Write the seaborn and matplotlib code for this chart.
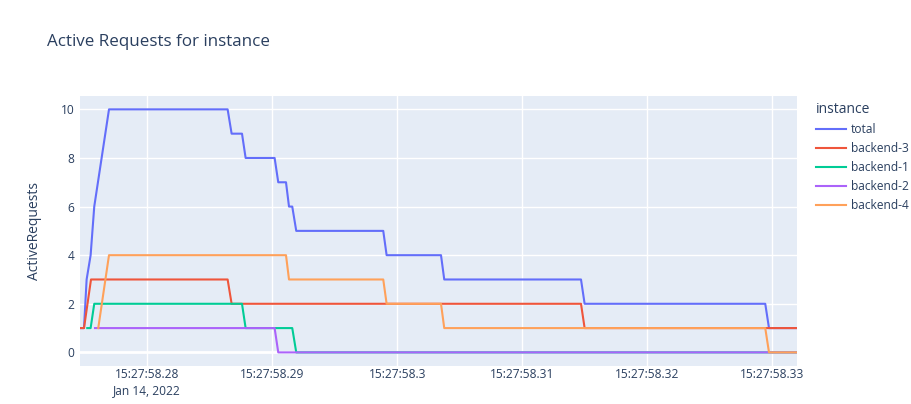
import pandas as pd
import numpy as np
import seaborn as sns
import matplotlib.pyplot as plt

# milliseconds after 15:27:58.270 for every sample, and the active request count
total_ms = [4.62, 4.94, 5.15, 5.47, 5.76, 6.94, 16.43, 16.75, 17.58, 17.87, 20.19, 20.48,
            21.10, 21.34, 21.60, 21.92, 28.88, 29.15, 33.50, 33.76, 44.70, 44.99, 59.44, 59.74, 61.98]
total_val = [1, 1, 3, 4, 6, 10, 10, 9, 9, 8, 8, 7, 7, 6, 6, 5, 5, 4, 4, 3, 3, 2, 2, 1, 1]

b3_ms = [4.62, 4.94, 5.50, 16.43, 16.75, 44.70, 44.99, 61.98]
b3_val = [1, 1, 3, 3, 2, 2, 1, 1]

b1_ms = [5.20, 5.47, 5.76, 17.58, 17.87, 21.60, 21.92, 61.98]
b1_val = [1, 1, 2, 2, 1, 1, 0, 0]

b2_ms = [5.82, 20.19, 20.48, 61.98]
b2_val = [1, 1, 0, 0]

b4_ms = [6.08, 6.94, 21.10, 21.34, 28.88, 29.15, 33.50, 33.76, 59.44, 59.74, 61.98]
b4_val = [1, 4, 4, 3, 3, 2, 2, 1, 1, 0, 0]

instances = ["total", "backend-3", "backend-1", "backend-2", "backend-4"]
colors = ["#636efa", "#EF553B", "#00cc96", "#ab63fa", "#FFA15A"]
tick_ms = [10, 20, 30, 40, 50, 60]
date_label = "Jan 14, 2022"

series = [(total_ms, total_val), (b3_ms, b3_val), (b1_ms, b1_val), (b2_ms, b2_val), (b4_ms, b4_val)]
frames = []
for name, (t, v) in zip(instances, series):
    frames.append(pd.DataFrame({"time": t, "ActiveRequests": v, "instance": name}))
df = pd.concat(frames, ignore_index=True)

text_col = "#2a3f5f"
plt.rcParams['font.family'] = ['Open Sans', 'DejaVu Sans']

fig = plt.figure(figsize=(9.12, 4.04), dpi=100)
ax = fig.add_axes([80 / 912, (404 - 366) / 404, 717 / 912, 270 / 404])
ax.set_facecolor("#E5ECF6")

sns.lineplot(data=df, x="time", y="ActiveRequests", hue="instance", hue_order=instances,
             palette=colors, estimator=None, sort=False, linewidth=1.5, ax=ax)

ax.set_xlim(4.62, 61.98)
ax.set_ylim(-0.56, 10.55)
ax.set_yticks([0, 2, 4, 6, 8, 10])

labels = []
for i, m in enumerate(tick_ms):
    s = f"15:27:{58.27 + m / 1000:.2f}".rstrip("0").rstrip(".")
    if i == 0:
        s += "\n" + date_label
    labels.append(s)
ax.set_xticks(tick_ms, labels)
for lbl in ax.get_xticklabels():
    lbl.set_linespacing(1.25)

ax.grid(True, color="white", linewidth=1)
ax.axhline(0, color="white", linewidth=2, zorder=0.5)
ax.set_axisbelow(True)
for sp in ax.spines.values():
    sp.set_visible(False)
ax.tick_params(length=0, labelsize=8.64, colors=text_col)
ax.tick_params(axis="x", pad=1.5)
ax.tick_params(axis="y", pad=4)
ax.set_xlabel("")
ax.set_ylabel("")

fig.text(35 / 912, 1 - 231 / 404, "ActiveRequests", rotation=90, ha="center", va="center",
         fontsize=10, color=text_col)
fig.text(47 / 912, 1 - 46 / 404, "Active Requests for instance", ha="left", va="baseline",
         fontsize=12.24, color=text_col)

handles, labs = ax.get_legend_handles_labels()
leg = ax.legend(handles, labs, title="instance", loc="upper left",
                bbox_to_anchor=(811 / 912, 1 - 97 / 404), bbox_transform=fig.transFigure,
                frameon=False, fontsize=8.64, title_fontsize=10, handlelength=2.5,
                handletextpad=0.4, labelspacing=0.5, alignment="left", borderaxespad=0)
for t in leg.get_texts():
    t.set_color(text_col)
leg.get_title().set_color(text_col)

fig.savefig("out.png", dpi=100, facecolor="white")
